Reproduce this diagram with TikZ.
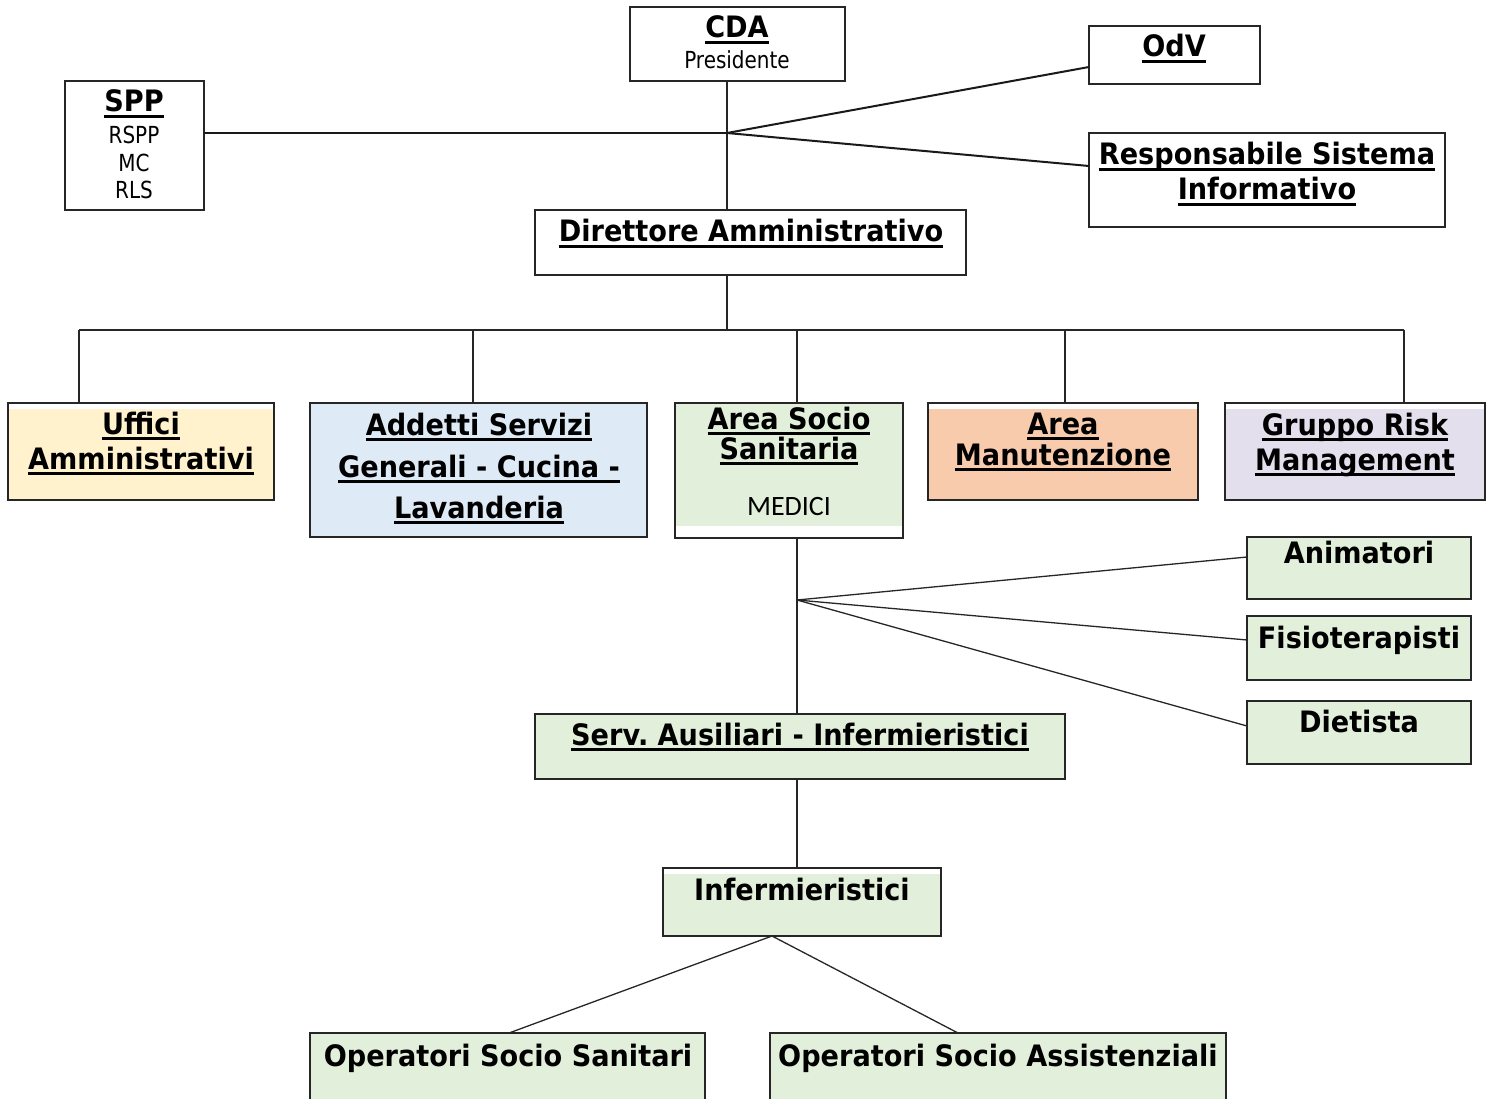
\documentclass[tikz,border=0pt]{standalone}
\usepackage{fontspec}
\setmainfont{DejaVu Sans}
\newfontfamily\regf[FakeStretch=0.85]{DejaVu Sans}
\newfontfamily\boldf[FakeStretch=0.92]{DejaVu Sans Bold}
\newfontfamily\medf{Carlito}
\frenchspacing
\newcommand\ulx[1]{\leavevmode\setbox0=\hbox{#1}\rlap{\rule[-6pt]{\wd0}{2.8pt}}\box0}
\definecolor{cyel}{HTML}{FFF2CC}
\definecolor{cblu}{HTML}{DEEAF6}
\definecolor{cgrn}{HTML}{E2EFDA}
\definecolor{cora}{HTML}{F8CBAD}
\definecolor{cpur}{HTML}{E4DFEC}
\tikzset{
  box/.style={draw=black!85, line width=1.2pt, inner sep=0pt, outer sep=0pt},
  topstrip/.style={path picture={\fill[#1] ([yshift=-6pt]path picture bounding box.north west) rectangle (path picture bounding box.south east);}},
  botstrip/.style={path picture={\fill[#1] (path picture bounding box.north west) rectangle ([yshift=12pt]path picture bounding box.south east);}},
  bt/.style={font=\fontsize{29.5}{34}\selectfont\boldf, anchor=base, inner sep=0pt},
  rt/.style={font=\fontsize{23.5}{27}\selectfont\regf, anchor=base, inner sep=0pt},
  con/.style={line width=1.3pt, draw=black!85},
  conb/.style={line width=2pt, draw=black!90},
}
\begin{document}
\begin{tikzpicture}[x=1pt,y=-1pt]
\useasboundingbox (0,0) rectangle (1494,1099);
% boxes
\node[box, minimum width=215pt, minimum height=74pt] (cda) at (737.5,44) {};
\node[box, minimum width=171pt, minimum height=58pt] (odv) at (1174.5,55) {};
\node[box, minimum width=139pt, minimum height=129pt] (spp) at (134.5,145.5) {};
\node[box, minimum width=356pt, minimum height=94pt] (rsi) at (1267,180) {};
\node[box, minimum width=431pt, minimum height=65pt] (dir) at (750.5,242.5) {};
\node[box, topstrip=cyel, minimum width=266pt, minimum height=97pt] (uff) at (141,451.5) {};
\node[box, fill=cblu, minimum width=337pt, minimum height=134pt] (add) at (478.5,470) {};
\node[box, botstrip=cgrn, minimum width=228pt, minimum height=135pt] (ass) at (789,470.5) {};
\node[box, topstrip=cora, minimum width=270pt, minimum height=97pt] (man) at (1063,451.5) {};
\node[box, topstrip=cpur, minimum width=260pt, minimum height=97pt] (grm) at (1355,451.5) {};
\node[box, fill=cgrn, minimum width=224pt, minimum height=62pt] (ani) at (1359,568) {};
\node[box, fill=cgrn, minimum width=224pt, minimum height=64pt] (fis) at (1359,648) {};
\node[box, fill=cgrn, minimum width=224pt, minimum height=63pt] (die) at (1359,732.5) {};
\node[box, fill=cgrn, minimum width=530pt, minimum height=65pt] (sai) at (800,746.5) {};
\node[box, topstrip=cgrn, minimum width=278pt, minimum height=68pt] (inf) at (802,902) {};
\node[box, fill=cgrn, minimum width=395pt, minimum height=74pt] (oss) at (507.5,1070) {};
\node[box, fill=cgrn, minimum width=456pt, minimum height=74pt] (osa) at (998,1070) {};
% texts
\node[bt] (t-cda) at (737,38) {\ulx{CDA}};
\node[rt] (t-pres) at (737,69) {Presidente};
\node[bt] (t-odv) at (1174,57) {\ulx{OdV}};
\node[bt] (t-spp) at (134,112) {\ulx{SPP}};
\node[rt] (t-rspp) at (134,144) {RSPP};
\node[rt] (t-mc) at (134,172) {MC};
\node[rt] (t-rls) at (134,199) {RLS};
\node[bt] (t-rsi1) at (1267,165) {\ulx{Responsabile Sistema}};
\node[bt] (t-rsi2) at (1267,200) {\ulx{Informativo}};
\node[bt] (t-dir) at (751,242) {\ulx{Direttore Amministrativo}};
\node[bt] (t-uff1) at (141,434) {\ulx{Uffici}};
\node[bt] (t-uff2) at (141,469) {\ulx{Amministrativi}};
\node[bt] (t-add1) at (479,435) {\ulx{Addetti Servizi}};
\node[bt] (t-add2) at (479,477) {\ulx{Generali - Cucina -}};
\node[bt] (t-add3) at (479,518) {\ulx{Lavanderia}};
\node[bt] (t-ass1) at (789,429) {\ulx{Area Socio}};
\node[bt] (t-ass2) at (789,459) {\ulx{Sanitaria}};
\node[anchor=base, inner sep=0pt, font=\fontsize{28}{32}\selectfont\medf] (t-med) at (789,515) {MEDICI};
\node[bt] (t-man1) at (1063,434) {\ulx{Area}};
\node[bt] (t-man2) at (1063,465) {\ulx{Manutenzione}};
\node[bt] (t-grm1) at (1355,435) {\ulx{Gruppo Risk}};
\node[bt] (t-grm2) at (1355,470) {\ulx{Management}};
\node[bt] (t-ani) at (1359,563) {Animatori};
\node[bt] (t-fis) at (1359,648) {Fisioterapisti};
\node[bt] (t-die) at (1359,732) {Dietista};
\node[bt] (t-sai) at (800,745) {\ulx{Serv.\ Ausiliari - Infermieristici}};
\node[bt] (t-inf) at (802,900) {Infermieristici};
\node[bt] (t-oss) at (508,1066) {Operatori Socio Sanitari};
\node[bt] (t-osa) at (998,1066) {Operatori Socio Assistenziali};
% junctions
\coordinate (j1) at (727,133);
\coordinate (j2) at (727,330);
\coordinate (j3) at (797,600);
\coordinate (j4) at (772,936);
\coordinate (bl) at (79,330);
\coordinate (b2) at (473,330);
\coordinate (b3) at (797,330);
\coordinate (b4) at (1065,330);
\coordinate (br) at (1404,330);
\coordinate (o1) at (509,1033);
\coordinate (o2) at (958,1033);
% top connectors
\draw[con] (j1 |- cda.south) -- (j1 |- dir.north);
\draw[conb] (spp.east |- j1) -- (j1);
\draw[conb] (j1) -- ([yshift=-12pt]odv.west);
\draw[conb] (j1) -- ([yshift=14pt]rsi.west);
% tree
\draw[con] (j2 |- dir.south) -- (j2);
\draw[con] (bl) -- (br);
\draw[con] (bl) -- (bl |- uff.north);
\draw[con] (b2) -- (b2 |- add.north);
\draw[con] (b3) -- (b3 |- ass.north);
\draw[con] (b4) -- (b4 |- man.north);
\draw[con] (br) -- (br |- grm.north);
% socio sanitaria
\draw[con] (j3 |- ass.south) -- (j3 |- sai.north);
\draw[con] (j3) -- ([yshift=11pt]ani.west);
\draw[con] (j3) -- ([yshift=8pt]fis.west);
\draw[con] (j3) -- ([yshift=6.5pt]die.west);
\draw[con] (j3 |- sai.south) -- (j3 |- inf.north);
\draw[con] (j4) -- (o1 |- oss.north);
\draw[con] (j4) -- (o2 |- osa.north);
\end{tikzpicture}
\end{document}
